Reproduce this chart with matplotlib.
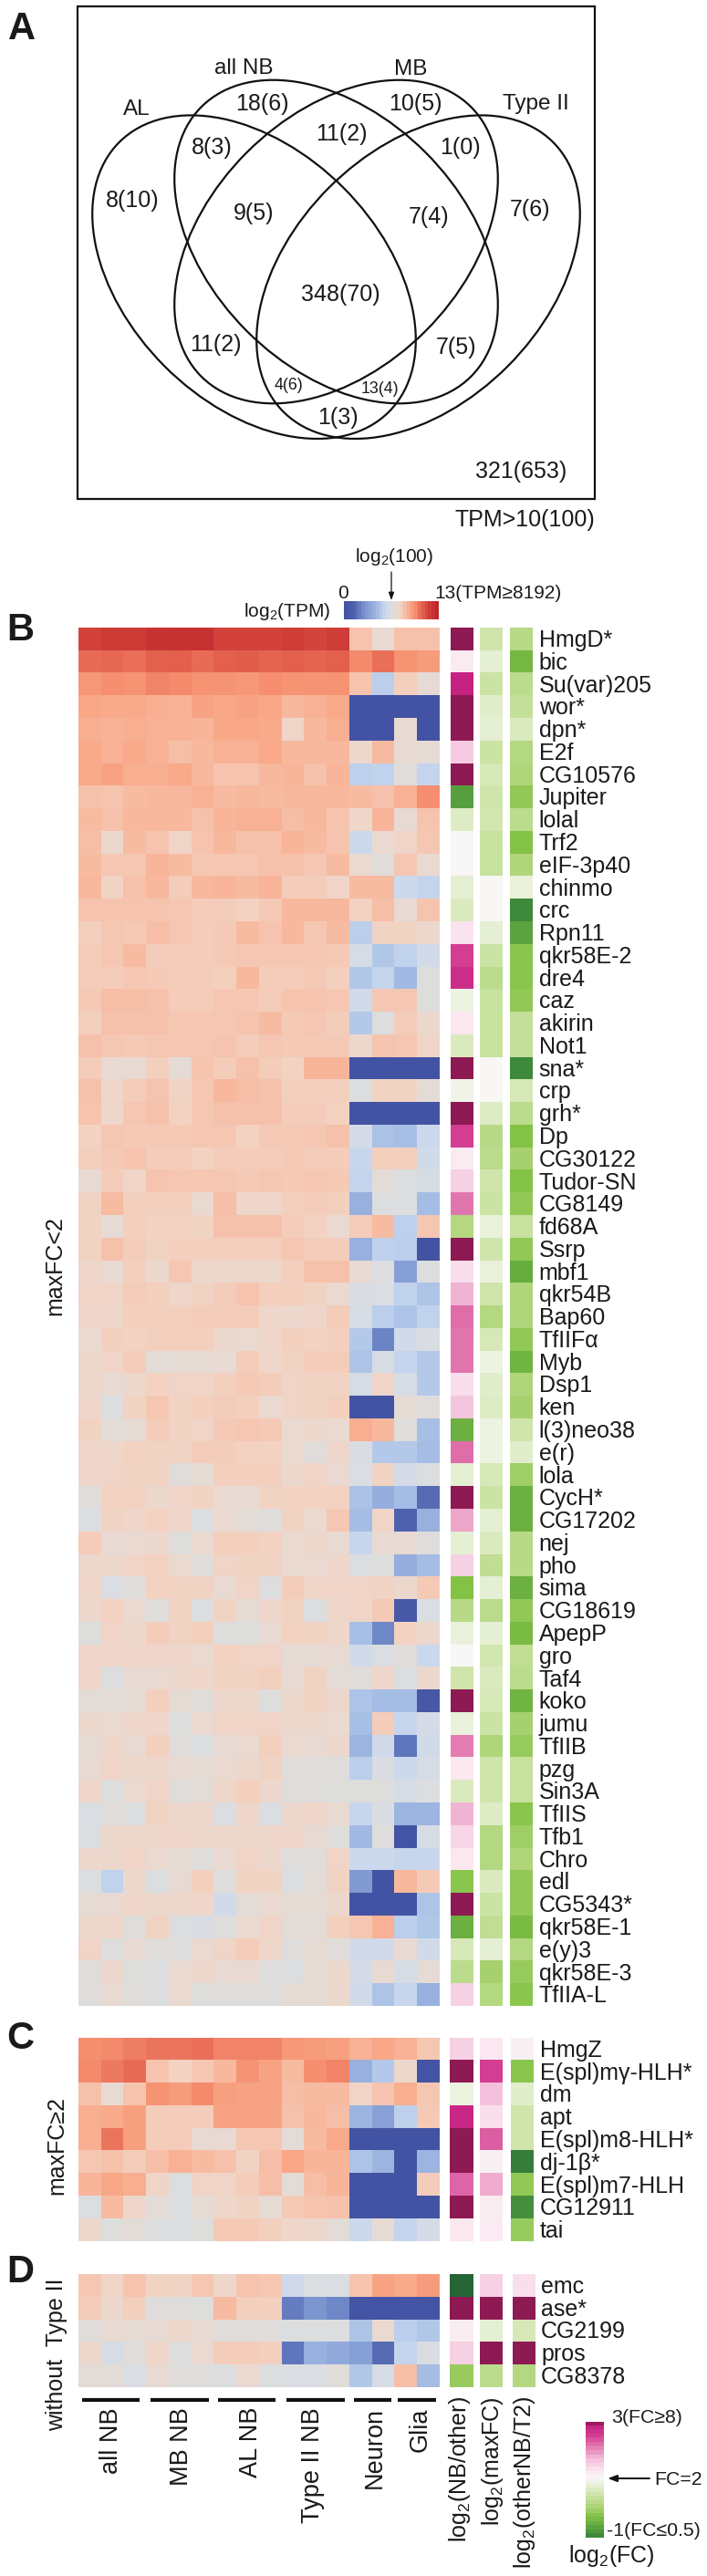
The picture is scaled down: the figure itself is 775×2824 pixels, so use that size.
import numpy as np
import matplotlib
matplotlib.use("Agg")
import matplotlib.pyplot as plt
from matplotlib.colors import LinearSegmentedColormap
from matplotlib.patches import Ellipse, Rectangle

plt.rcParams['font.family'] = ['Liberation Sans', 'DejaVu Sans']
plt.rcParams['mathtext.default'] = 'regular'

W, H = 775, 2824

# --- panel A ---
venn_labels = ['all NB', 'MB', 'AL', 'Type II']
venn_counts = ['18(6)', '10(5)', '8(3)', '11(2)', '1(0)', '8(10)', '9(5)', '7(4)', '7(6)',
               '348(70)', '11(2)', '7(5)', '1(3)', '321(653)']
venn_small = ['4(6)', '13(4)']

# --- panels B, C, D: log2(TPM) ---
b_genes = ['HmgD*', 'bic', 'Su(var)205', 'wor*', 'dpn*', 'E2f', 'CG10576', 'Jupiter', 'lolal', 'Trf2',
           'eIF-3p40', 'chinmo', 'crc', 'Rpn11', 'qkr58E-2', 'dre4', 'caz', 'akirin', 'Not1', 'sna*',
           'crp', 'grh*', 'Dp', 'CG30122', 'Tudor-SN', 'CG8149', 'fd68A', 'Ssrp', 'mbf1', 'qkr54B',
           'Bap60', 'TfIIFα', 'Myb', 'Dsp1', 'ken', 'l(3)neo38', 'e(r)', 'lola', 'CycH*', 'CG17202',
           'nej', 'pho', 'sima', 'CG18619', 'ApepP', 'gro', 'Taf4', 'koko', 'jumu', 'TfIIB',
           'pzg', 'Sin3A', 'TfIIS', 'Tfb1', 'Chro', 'edl', 'CG5343*', 'qkr58E-1', 'e(y)3', 'qkr58E-3',
           'TfIIA-L']
b_tpm = [
    [11.8,12.1,12.1,12.4,12.5,12.5,11.8,11.8,11.8,12.0,11.7,12.0,8.3,7.2,8.4,8.4],
    [10.6,10.7,10.5,10.9,10.9,10.6,10.9,11.0,10.8,10.9,10.8,10.9,10.0,10.5,9.8,9.5],
    [9.6,9.9,9.8,10.1,10.0,9.8,9.7,9.6,9.9,9.8,9.7,9.8,8.3,5.2,7.9,7.1],
    [9.2,9.1,9.1,9.0,8.9,9.3,9.2,9.3,9.2,8.7,8.9,9.1,0,0,0,0],
    [9.0,8.9,9.0,8.9,8.9,8.8,9.2,9.2,9.1,7.6,8.7,9.0,0,0,7.2,0],
    [9.1,8.9,9.1,8.9,8.5,8.7,8.9,8.9,9.1,8.7,8.7,8.7,7.4,8.6,7.2,7.1],
    [9.1,9.3,9.0,9.0,9.1,8.7,8.3,8.3,8.7,8.8,8.4,8.8,5.3,5.4,6.9,5.5],
    [8.4,8.3,8.6,8.7,8.7,8.9,8.6,8.7,8.6,8.7,8.7,8.7,8.6,8.4,8.9,9.9],
    [8.6,8.4,8.7,8.7,8.7,8.4,8.8,8.9,8.9,8.5,8.7,8.3,7.5,8.8,7.2,8.3],
    [8.5,7.4,8.6,8.3,7.6,8.3,8.7,8.4,8.4,8.8,8.6,8.3,5.8,7.3,7.6,8.2],
    [8.6,8.2,8.2,8.8,8.6,8.2,8.2,8.2,8.4,8.4,8.2,8.6,7.3,6.9,8.2,7.3],
    [8.7,7.7,8.4,8.7,8.0,8.7,8.8,8.6,8.8,8.0,8.0,7.6,8.6,8.6,5.8,5.5],
    [8.3,8.3,8.3,8.3,8.2,8.0,8.0,7.8,8.1,8.7,8.7,8.7,7.8,8.5,7.2,8.3],
    [7.9,8.2,8.1,8.5,8.2,8.0,8.1,8.6,8.3,8.7,8.2,8.6,5.2,7.7,7.7,7.4],
    [8.0,8.2,8.6,8.0,8.0,8.0,8.1,8.2,8.2,8.2,8.2,8.1,6.2,4.9,5.4,6.0],
    [8.0,8.0,8.2,8.1,8.0,8.0,7.9,8.7,8.0,8.0,8.1,7.9,4.9,5.5,4.4,6.7],
    [8.1,8.5,8.5,8.4,8.0,8.0,8.2,8.2,8.0,8.3,8.3,8.2,6.0,8.2,8.2,6.7],
    [7.9,8.4,8.4,8.4,8.2,8.2,8.2,8.3,8.6,8.1,8.2,8.0,5.0,6.5,8.0,7.4],
    [8.4,8.2,8.1,8.2,8.2,8.2,8.3,8.0,8.2,8.1,8.1,8.1,7.4,8.3,8.2,7.6],
    [8.0,7.2,7.2,7.9,7.1,8.3,8.0,8.4,8.0,7.8,8.8,8.8,0,0,0,0],
    [8.4,7.5,8.0,8.3,7.7,8.2,8.7,8.5,8.4,7.9,7.9,7.9,6.6,7.7,7.7,7.0],
    [8.3,7.5,8.2,8.4,7.8,8.2,8.4,8.4,8.4,8.0,8.0,7.8,0,0,0,0],
    [7.8,8.2,8.1,8.1,8.1,8.2,8.2,7.8,8.1,8.1,8.2,8.4,6.1,4.7,4.6,5.8],
    [7.9,8.1,8.3,8.0,8.0,7.8,8.0,8.0,8.0,8.1,8.0,8.0,5.6,7.9,7.9,6.0],
    [7.2,8.0,7.6,8.3,8.2,8.2,8.2,8.1,8.2,8.1,8.2,8.1,5.5,7.0,6.5,6.2],
    [7.7,8.6,7.9,7.9,7.9,7.3,8.5,7.5,7.5,7.9,8.0,7.9,4.0,6.6,6.5,4.5],
    [7.7,7.1,7.9,7.8,7.8,7.7,8.4,8.4,8.4,8.0,7.8,7.3,8.0,8.6,5.3,8.2],
    [7.7,8.4,8.0,7.7,7.9,7.9,7.9,7.9,7.9,8.2,8.0,8.0,4.0,5.3,5.2,0],
    [7.5,7.2,7.9,7.4,8.2,7.5,7.4,7.4,7.4,7.9,8.4,8.4,7.2,6.6,3.2,6.6],
    [7.6,7.6,8.0,7.9,7.5,7.7,8.0,8.3,7.9,7.9,7.7,7.3,6.3,6.4,5.4,4.8],
    [7.5,7.5,7.9,7.9,7.9,8.0,8.0,8.0,7.5,7.4,7.5,8.0,6.2,5.2,4.8,5.4],
    [7.3,7.9,7.8,7.9,7.9,7.9,7.4,7.3,7.5,7.9,7.8,7.9,5.0,2.2,6.0,6.3],
    [7.4,7.6,8.0,7.0,7.1,7.1,7.2,8.0,7.5,7.7,8.0,8.0,4.8,6.2,5.5,5.0],
    [7.4,7.2,7.4,7.8,7.6,7.6,7.9,8.1,8.0,7.6,7.7,7.7,6.2,7.6,6.2,5.0],
    [7.5,6.5,7.7,8.2,7.7,7.9,8.0,7.9,7.3,7.6,7.7,7.9,0,0,7.1,6.9],
    [7.7,7.0,7.1,8.0,7.7,7.6,8.1,8.2,8.1,7.3,7.4,7.3,9.0,8.7,6.8,4.6],
    [7.5,7.5,7.8,7.7,7.7,8.0,8.0,7.8,7.8,7.3,6.9,7.5,6.3,5.0,5.0,4.5],
    [7.5,7.6,7.7,7.7,6.9,7.1,7.9,7.9,7.9,7.4,7.6,7.3,6.4,7.7,6.1,6.5],
    [6.9,7.8,7.8,7.4,7.6,7.7,7.3,7.2,7.7,7.8,7.8,7.8,4.7,3.9,4.5,1.5],
    [6.6,7.7,7.5,7.8,7.5,6.5,7.3,7.0,6.8,7.7,7.3,8.2,4.5,7.6,1.2,4.0],
    [8.0,7.2,7.3,7.4,6.8,7.3,7.9,7.9,7.8,7.3,7.4,7.2,5.6,7.2,7.2,6.8],
    [7.4,7.4,7.6,7.8,7.3,6.9,7.6,7.7,7.7,7.3,7.3,7.5,6.5,6.7,3.9,4.5],
    [7.5,6.4,6.9,7.8,7.7,7.7,7.2,7.6,6.5,8.0,7.6,7.6,7.6,7.7,7.4,8.1],
    [7.4,7.8,7.3,6.8,7.7,6.5,7.7,7.1,7.5,7.7,6.5,7.5,7.6,8.1,0.5,6.4],
    [6.7,7.6,7.4,8.0,7.7,7.9,6.7,6.7,7.2,7.8,7.7,7.5,4.6,2.3,7.8,7.4],
    [7.5,7.5,7.5,7.5,7.5,7.3,7.8,7.6,7.6,7.1,7.1,7.2,6.0,6.4,6.9,5.7],
    [7.5,6.6,7.2,7.3,7.4,7.5,7.7,7.7,7.9,7.2,7.7,7.0,6.9,7.5,6.5,7.4],
    [7.0,7.0,7.1,7.9,7.1,6.9,7.4,7.4,6.7,7.4,7.7,7.4,4.8,4.5,4.5,0.5],
    [7.4,7.3,7.5,7.5,6.7,7.3,7.6,7.6,7.6,7.4,7.4,7.3,4.6,8.0,5.6,6.1],
    [7.1,7.5,7.2,7.9,6.9,6.6,7.2,7.3,7.9,7.3,7.2,7.4,4.2,5.9,1.8,6.0],
    [7.2,7.6,7.4,7.4,7.2,7.1,7.3,7.4,7.7,6.9,6.9,6.8,5.2,6.3,5.8,6.2],
    [7.5,6.7,7.3,7.6,6.9,7.0,7.5,7.9,7.4,6.9,6.8,6.7,6.7,6.7,6.2,6.5],
    [6.4,6.9,6.5,7.7,7.4,7.4,6.4,7.5,6.4,7.4,7.5,7.3,5.6,6.3,4.2,4.2],
    [6.6,7.4,7.4,7.5,7.5,7.4,7.5,7.4,7.5,7.5,7.2,6.8,4.4,6.8,0.2,6.2],
    [7.4,7.4,7.6,7.3,7.1,6.8,7.3,7.6,7.4,6.8,6.9,7.6,5.8,5.8,5.6,5.6],
    [6.6,5.4,7.4,6.5,7.2,7.9,6.8,7.7,7.7,6.5,7.0,7.7,3.0,0,8.7,8.1],
    [7.1,7.2,7.5,7.4,7.4,7.5,6.0,7.0,7.3,7.1,7.1,7.4,0,0,0,4.8],
    [7.4,7.5,6.8,7.7,6.5,6.3,6.7,7.3,7.6,7.0,7.0,7.9,8.2,8.9,5.2,4.9],
    [7.6,6.7,7.2,6.9,6.7,7.3,7.6,8.0,7.5,6.8,7.1,6.9,6.0,6.0,7.2,6.0],
    [6.9,7.4,6.7,6.5,7.3,7.4,7.2,7.2,6.8,6.5,7.1,7.4,6.1,7.2,6.2,7.1],
    [6.8,7.2,6.9,6.5,7.3,6.8,6.8,6.8,6.8,7.1,7.1,7.4,6.0,4.8,5.6,4.0],
]
b_nb_other = [3,1.2,2.85,3,3,1.55,3,-.75,.65,1.0,1.0,.75,.6,1.3,2.5,2.7,.85,1.25,.6,3,.9,3,2.5,1.2,1.5,
              2.15,.1,3,1.35,1.75,2.2,2.15,2.15,1.35,1.6,-.55,2.2,.75,3,1.85,.75,1.5,-.3,.15,.8,1.0,.45,3,.8,2.1,
              1.25,.6,1.75,1.45,1.25,-.25,3,-.55,.55,.2,1.5]
b_maxfc = [.45,.75,.4,.7,.75,.4,.55,.45,.5,.35,.35,1.0,1.0,.75,.4,.2,.35,.35,.35,1.0,1.0,.65,.15,.2,.45,
           .4,.8,.45,.8,.45,.1,.55,.85,.7,.65,.85,.85,.55,.4,.75,.6,.25,.75,.2,.75,.5,.6,.55,.4,.05,
           .45,.45,.65,.1,.1,.6,.4,.25,.75,-.05,.1]
b_other_t2 = [.15,-.45,.2,.3,.6,.1,.05,-.2,.2,-.3,.05,.8,-1,-.7,-.25,-.25,-.2,.3,.3,-1,.55,.2,-.3,-.05,-.3,
              -.2,.35,-.2,-.6,.05,.05,-.2,-.5,.05,-.05,.45,.7,-.1,-.55,-.55,.15,.15,-.55,-.2,-.4,.25,.2,-.5,-.05,-.15,
              .35,.35,-.25,-.1,.05,-.2,-.2,-.4,.1,-.15,-.25]

c_genes = ['HmgZ', 'E(spl)mγ-HLH*', 'dm', 'apt', 'E(spl)m8-HLH*', 'dj-1β*', 'E(spl)m7-HLH', 'CG12911', 'tai']
c_tpm = [
    [9.9,10.0,10.2,10.4,10.4,10.5,10.1,10.1,10.1,9.6,9.5,9.4,8.9,9.2,8.9,8.2],
    [10.0,10.3,10.6,8.3,7.8,8.2,8.7,9.7,9.3,8.6,9.9,10.1,4.0,5.0,7.4,0.2],
    [8.4,7.2,8.3,9.8,9.5,10.0,9.4,9.3,9.3,8.5,8.6,8.6,7.6,8.3,9.0,8.2],
    [9.0,9.1,9.4,8.0,8.0,8.0,9.3,9.3,9.3,8.4,8.7,8.5,4.2,3.3,5.3,8.1],
    [9.0,10.4,9.4,8.0,8.0,7.2,7.2,8.2,8.2,7.0,8.6,9.1,0,0,0,0],
    [8.2,8.4,8.0,8.5,8.9,8.6,8.4,7.7,8.5,9.2,8.8,8.8,4.8,4.2,0,4.2],
    [8.8,9.2,9.0,7.6,6.6,7.6,7.6,8.0,8.5,7.0,8.5,8.8,0,0,0,8.0],
    [6.5,8.6,7.5,7.0,6.6,7.1,7.5,7.7,7.1,8.1,8.3,8.4,0,0,0,0],
    [7.4,6.7,7.0,6.6,6.5,6.7,8.1,8.1,7.9,7.5,7.4,7.0,5.8,7.1,5.5,6.1],
]
c_nb_other = [1.5,3,.85,2.8,3,3,2.25,3,1.25]
c_maxfc = [1.25,2.5,1.65,1.35,2.3,1.1,1.8,1.15,1.2]
c_other_t2 = [1.1,-.25,.7,.45,.45,-1.1,-.2,-.95,-.15]

d_genes = ['emc', 'ase*', 'CG2199', 'pros', 'CG8378']
d_tpm = [
    [8.2,7.6,8.3,7.7,7.7,8.2,7.5,8.3,8.2,5.9,6.4,6.4,8.3,9.3,9.1,9.5],
    [8.0,7.4,7.9,6.8,6.8,6.7,8.6,7.9,7.9,2.0,2.8,2.3,0.2,0.2,0.2,0.2],
    [6.9,7.2,7.1,7.2,7.4,7.2,6.9,6.9,6.9,6.6,6.6,6.6,4.8,7.3,5.2,4.9],
    [7.4,6.2,6.9,7.5,6.7,7.3,8.0,8.0,7.9,1.8,4.0,3.7,3.2,1.5,5.5,6.3],
    [7.0,7.0,6.4,7.2,6.8,6.8,6.6,7.3,6.6,6.4,6.4,6.9,4.9,6.2,8.5,4.5],
]
d_nb_other = [-1.3,3,1.15,1.5,-.15]
d_maxfc = [1.5,3,.75,3,.2]
d_other_t2 = [1.35,3,.55,3,.1]

group_names = ['all NB', 'MB NB', 'AL NB', 'Type II NB', 'Neuron', 'Glia']
side_names = ['log$_2$(NB/other)', 'log$_2$(maxFC)', 'log$_2$(otherNB/T2)']

# colour scales
tpm_stops = [(0, '#4353A3'), (1.2, '#4E62AE'), (2.2, '#6C85C6'), (3.2, '#86A0D6'), (4.2, '#9DB5E1'),
             (5, '#B5CAEA'), (5.7, '#CAD8EE'), (6.3, '#D9DDE3'), (6.8, '#DFDDDB'), (7.3, '#EBD9D0'),
             (7.8, '#F3D2C2'), (8.3, '#F6C5AF'), (8.8, '#F8B69A'), (9.3, '#F8A584'), (9.9, '#F58F70'),
             (10.5, '#EA7059'), (11.2, '#DD5546'), (12, '#CF3E38'), (13, '#BF272D')]
tpm_cmap = LinearSegmentedColormap.from_list('tpm', [(v / 13, c) for v, c in tpm_stops])

fc_lo, fc_hi = -1.4, 3.4
fc_stops = [(-1.4, '#1F5C34'), (-1, '#3F8A3D'), (-.6, '#67AD40'), (-.3, '#84C346'), (0, '#ADD476'),
            (.5, '#D3E7B1'), (1, '#F8F8F6'), (1.3, '#FBE4EF'), (1.7, '#F3BDD9'), (2.1, '#E47EB3'),
            (2.5, '#D43F94'), (2.9, '#C41F80'), (2.98, '#8D1A52'), (3.4, '#8D1A52')]
fc_cmap = LinearSegmentedColormap.from_list('fc', [((v - fc_lo) / (fc_hi - fc_lo), c) for v, c in fc_stops], N=512)

fig = plt.figure(figsize=(W / 100, H / 100), dpi=100, facecolor='white')


def px_axes(x0, y0, x1, y1):
    ax = fig.add_axes([x0 / W, 1 - y1 / H, (x1 - x0) / W, (y1 - y0) / H])
    ax.axis('off')
    return ax


def heat(x0, y0, x1, y1, values, cmap, vmin, vmax):
    ax = px_axes(x0, y0, x1, y1)
    ax.imshow(values, cmap=cmap, vmin=vmin, vmax=vmax, aspect='auto', interpolation='nearest')
    return ax


# overlay in pixel coordinates for venn, text and arrows
ov = fig.add_axes([0, 0, 1, 1], zorder=10)
ov.set_xlim(0, W)
ov.set_ylim(H, 0)
ov.axis('off')
ov.patch.set_alpha(0)


def panel(y0, y1, genes, tpm, nb_other, maxfc, other_t2, side_x, label_x):
    heat(85.7, y0, 481.6, y1, tpm, tpm_cmap, 0, 13)
    for (a, b), col in zip(side_x, [nb_other, maxfc, other_t2]):
        heat(a, y0, b, y1, np.array(col)[:, None], fc_cmap, fc_lo, fc_hi)
    rh = (y1 - y0) / len(genes)
    for i, g in enumerate(genes):
        ov.text(label_x, y0 + (i + 1) * rh - 4, g, fontsize=18, va='baseline', ha='left', color='#1a1a1a')


panel(688.3, 2199.3, b_genes, b_tpm, b_nb_other, b_maxfc, b_other_t2,
      [(493.9, 518.4), (525.7, 549.8), (558.8, 582.9)], 590.6)
panel(2234, 2457.3, c_genes, c_tpm, c_nb_other, c_maxfc, c_other_t2,
      [(492.8, 518), (525.5, 550), (560, 584.8)], 592)
panel(2493.3, 2616.7, d_genes, d_tpm, d_nb_other, d_maxfc, d_other_t2,
      [(492.8, 518), (525.5, 550), (561.5, 586)], 593)

# venn diagram
ov.add_patch(Rectangle((84.5, 7), 567, 540.3, fill=False, ec='#111111', lw=1.6))
for cx, cy, ang in [(278.5, 303.7, 45), (368.5, 265, 45), (368.5, 265, -45), (458.5, 303.7, -45)]:
    ov.add_patch(Ellipse((cx, cy), 418, 277, angle=ang, fill=False, ec='#111111', lw=1.6))

sx, sy = 1 / 2.023, 1 / 2.24
label_pos = [(540, 168), (910, 170), (302, 268), (1188, 255)]
for s, (x, y) in zip(venn_labels, label_pos):
    ov.text(x * sx, y * sy, s, fontsize=17.5, ha='center', va='center', color='#1a1a1a')
count_pos = [(581, 256), (922, 256), (470, 362), (758, 330), (1020, 362), (294, 492), (563, 525), (950, 533),
             (1175, 516), (756, 724), (478, 847), (1012, 853), (750, 1025), (1155, 1157)]
for s, (x, y) in zip(venn_counts, count_pos):
    ov.text(x * sx, y * sy, s, fontsize=18, ha='center', va='center', color='#1a1a1a')
for s, (x, y) in zip(venn_small, [(640, 947), (843, 955)]):
    ov.text(x * sx, y * sy, s, fontsize=12.8, ha='center', va='center', color='#1a1a1a')
ov.text(652, 570, 'TPM>10(100)', fontsize=18, ha='right', va='center', color='#1a1a1a')

# panel letters
for s, x, y in [('A', 23.5, 32), ('B', 22, 691), ('C', 22, 2235), ('D', 22, 2491)]:
    ov.text(x, y, s, fontsize=30, fontweight='bold', ha='center', va='center', color='#1a1a1a')

# log2(TPM) colour bar
cbar = px_axes(376.7, 659, 480.5, 679.5)
cbar.imshow(np.linspace(0, 13, 27)[None, :], cmap=tpm_cmap, vmin=0, vmax=13, aspect='auto', interpolation='nearest')
ov.text(432.5, 611, 'log$_2$(100)', fontsize=15, ha='center', va='center', color='#1a1a1a')
ov.annotate('', xy=(429, 658), xytext=(429, 627), arrowprops=dict(arrowstyle='-|>,head_width=0.18,head_length=0.5', color='#111111', lw=0.9, shrinkA=0, shrinkB=0))
ov.text(375.7, 651, '0', fontsize=15, ha='center', va='center', color='#1a1a1a')
ov.text(476, 651, '13(TPM≥8192)', fontsize=15, ha='left', va='center', color='#1a1a1a')
ov.text(362, 671, 'log$_2$(TPM)', fontsize=15, ha='right', va='center', color='#1a1a1a')

# side labels of the panels
ov.text(60, 1388, 'maxFC<2', fontsize=18, rotation=90, ha='center', va='center', color='#1a1a1a')
ov.text(62, 2352, 'maxFC≥2', fontsize=18, rotation=90, ha='center', va='center', color='#1a1a1a')
ov.text(62, 2581, 'without  Type II', fontsize=18, rotation=90, ha='center', va='center', color='#1a1a1a')

# group bars and labels under D
bars = [(89.5, 153.2), (165, 229), (239, 302), (314.4, 378), (387.5, 429), (436, 478)]
group_x = [122, 198.7, 275, 343.5, 411, 460.7]
for (a, b), name, x in zip(bars, group_names, group_x):
    ov.plot([a, b], [2630.7, 2630.7], color='#111111', lw=3, solid_capstyle='butt')
    ov.text(x, 2639, name, fontsize=19.5, rotation=90, ha='center', va='top', color='#1a1a1a')
for name, x in zip(side_names, [504, 540, 575]):
    ov.text(x, 2627, name, fontsize=18, rotation=90, ha='center', va='top', color='#1a1a1a')

# log2(FC) colour bar
fcbar = px_axes(641.6, 2655, 661.4, 2782.3)
fcbar.imshow(np.linspace(2.95, -1, 28)[:, None], cmap=fc_cmap, vmin=fc_lo, vmax=fc_hi, aspect='auto', interpolation='nearest')
ov.text(670, 2650, '3(FC≥8)', fontsize=15.3, ha='left', va='center', color='#1a1a1a')
ov.text(665, 2775, '-1(FC≤0.5)', fontsize=15.3, ha='left', va='center', color='#1a1a1a')
ov.text(717, 2718, 'FC=2', fontsize=15.3, ha='left', va='center', color='#1a1a1a')
ov.annotate('', xy=(666, 2717), xytext=(712, 2717), arrowprops=dict(arrowstyle='-|>,head_width=0.22,head_length=0.6', color='#111111', lw=1.4, shrinkA=0, shrinkB=0))
ov.text(670, 2802, 'log$_2$(FC)', fontsize=18, ha='center', va='center', color='#1a1a1a')

fig.savefig('out.png', dpi=100, facecolor='white')
